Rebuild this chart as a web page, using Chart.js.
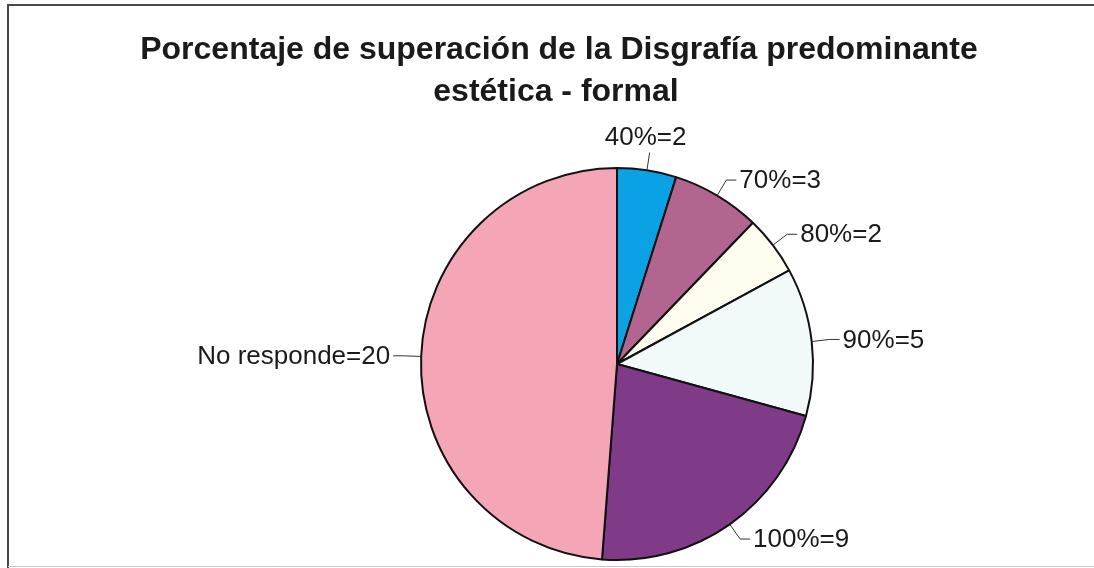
<!DOCTYPE html>
<html>
<head>
<meta charset="utf-8">
<script src="https://cdn.jsdelivr.net/npm/chart.js@4.4.1/dist/chart.umd.min.js"></script>
<style>
  html, body { margin: 0; padding: 0; background: #ffffff; }
  #wrap { width: 1094px; height: 568px; position: relative; }
</style>
</head>
<body>
<div id="wrap"><canvas id="c" width="1094" height="568"></canvas></div>
<script>
// Chart content
const titleLines = ["Porcentaje de superación de la Disgrafía predominante", "estética - formal"];
const categories = ["40%", "70%", "80%", "90%", "100%", "No responde"];
const counts = [2, 3, 2, 5, 9, 20];
const sliceColors = ["#0aa2e4", "#b2668f", "#fffdf0", "#f2f9f9", "#7f3a88", "#f4a6b6"];

// Draws the surrounding frame and the two-line bold title
const framePlugin = {
  id: "frame",
  beforeDraw(chart) {
    const ctx = chart.ctx;
    ctx.save();
    ctx.fillStyle = "#ffffff";
    ctx.fillRect(0, 0, chart.width, chart.height);
    ctx.strokeStyle = "#4a4a4a";
    ctx.lineWidth = 2;
    ctx.beginPath();
    ctx.moveTo(chart.width, 5);
    ctx.lineTo(8, 5);
    ctx.lineTo(8, chart.height);
    ctx.stroke();
    ctx.strokeStyle = "#c8c8c8";
    ctx.lineWidth = 1;
    ctx.beginPath();
    ctx.moveTo(8, 566.5);
    ctx.lineTo(chart.width, 566.5);
    ctx.stroke();

    ctx.fillStyle = "#1a1a1a";
    ctx.font = "bold 32px 'Liberation Sans', Arial, sans-serif";
    ctx.textAlign = "center";
    ctx.textBaseline = "alphabetic";
    ctx.fillText(titleLines[0], 559, 59);
    ctx.fillText(titleLines[1], 556, 101);
    ctx.restore();
  }
};

// Outside labels "category=count" with elbow leader lines
const labelPlugin = {
  id: "sliceLabels",
  afterDatasetsDraw(chart) {
    const ctx = chart.ctx;
    const meta = chart.getDatasetMeta(0);
    ctx.save();
    ctx.font = "26px 'Liberation Sans', Arial, sans-serif";
    ctx.fillStyle = "#1a1a1a";
    ctx.strokeStyle = "#333333";
    ctx.lineWidth = 1;
    meta.data.forEach((arc, i) => {
      const p = arc.getProps(["x", "y", "startAngle", "endAngle", "outerRadius"], true);
      const mid = (p.startAngle + p.endAngle) / 2;
      const cos = Math.cos(mid), sin = Math.sin(mid);
      const x0 = p.x + p.outerRadius * cos, y0 = p.y + p.outerRadius * sin;
      const x1 = p.x + (p.outerRadius + 18) * cos, y1 = p.y + (p.outerRadius + 18) * sin;
      const text = categories[i] + "=" + counts[i];
      ctx.beginPath();
      ctx.moveTo(x0, y0);
      ctx.lineTo(x1, y1);
      if (Math.abs(cos) < 0.3 && sin < 0) {
        // near the top: short vertical tick, text centred above it
        ctx.stroke();
        ctx.textAlign = "center";
        ctx.textBaseline = "bottom";
        ctx.fillText(text, x1 - 4, y1 - 2);
      } else {
        const dir = cos >= 0 ? 1 : -1;
        const x2 = x1 + dir * 10;
        ctx.lineTo(x2, y1);
        ctx.stroke();
        ctx.textAlign = dir > 0 ? "left" : "right";
        ctx.textBaseline = "middle";
        ctx.fillText(text, x2 + dir * 3, y1 + 1);
      }
    });
    ctx.restore();
  }
};

new Chart(document.getElementById("c"), {
  type: "pie",
  data: {
    labels: categories,
    datasets: [{
      data: counts,
      backgroundColor: sliceColors,
      borderColor: "#111111",
      borderWidth: 2,
      borderAlign: "center",
      hoverOffset: 0
    }]
  },
  options: {
    responsive: false,
    animation: false,
    devicePixelRatio: 1,
    layout: { padding: { left: 420, right: 280, top: 167, bottom: 7 } },
    plugins: {
      legend: { display: false },
      title: { display: false },
      tooltip: { enabled: false }
    }
  },
  plugins: [framePlugin, labelPlugin]
});
</script>
</body>
</html>
